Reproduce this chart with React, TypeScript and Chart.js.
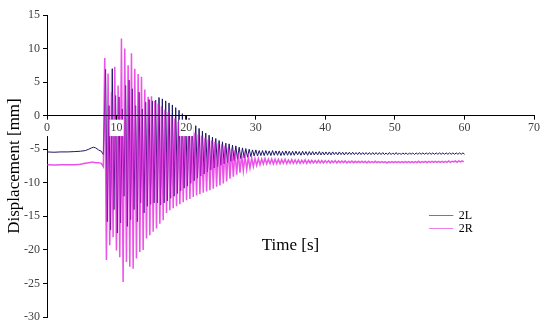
import React, { useEffect, useRef } from "react";
import { Chart, registerables } from "chart.js";

Chart.register(...registerables);

// ---- data ----
const SERIES_NAMES = ["2L", "2R"];
const X_TICK_STEP = 10;
const Y_TICK_STEP = 5;

// quiet phase before the shaking
const preTimes = [0, 1, 2, 3, 4, 4.8, 5.5, 6.0, 6.4, 6.7, 7.0, 7.4, 7.8, 8.1];
const preL = [-5.4, -5.45, -5.4, -5.4, -5.35, -5.3, -5.2, -5.0, -4.8, -4.7, -4.8, -5.1, -5.3, -5.8];
const preR = [-7.3, -7.35, -7.3, -7.3, -7.3, -7.25, -7.1, -7.0, -6.95, -6.95, -7.0, -7.0, -7.1, -7.6];

// oscillation: one peak and one trough per cycle
const cyclePeriod = 0.48; // s
const startL = 8.42;
const startR = 8.3;

const l2Peak = [
  6.9, 1.5, 7.0, 3.0, 2.8, 1.0, 4.5, 5.3, 4.0, 1.5,
  3.5, 1.0, 2.0, 2.4, 2.2, 2.3, 2.7, 2.5, 2.2, 1.9,
  1.6, 1.2, 0.8, 0.3, 0.0, -0.4, -0.9, -1.5, -1.9, -2.3,
  -2.6, -2.9, -3.2, -3.4, -3.7, -3.9, -4.1, -4.2, -4.4, -4.5,
  -4.7, -4.8, -4.9, -5.0, -5.1, -5.1, -5.2, -5.2, -5.2, -5.25,
  -5.2, -5.25, -5.25, -5.3, -5.25, -5.3, -5.3, -5.3, -5.35, -5.3,
  -5.35, -5.35, -5.35, -5.4, -5.35, -5.4, -5.4, -5.4, -5.4, -5.45,
  -5.4, -5.45, -5.45, -5.45, -5.45, -5.5, -5.45, -5.5, -5.5, -5.5,
  -5.5, -5.5, -5.5, -5.5, -5.55, -5.5, -5.55, -5.5, -5.55, -5.55,
  -5.55, -5.55, -5.55, -5.55, -5.55, -5.55, -5.55, -5.55, -5.55, -5.55,
  -5.55, -5.55, -5.55, -5.55, -5.55, -5.55, -5.55, -5.55,
];
const l2Trough = [
  -15.8, -17.0, -14.0, -17.5, -16.0, -12.0, -16.5, -15.5, -14.0, -15.8,
  -13.0, -14.5, -13.5, -13.2, -13.0, -13.0, -13.3, -13.0, -12.7, -12.3,
  -12.0, -11.6, -11.2, -10.8, -10.5, -10.1, -9.7, -9.3, -9.0, -8.7,
  -8.4, -8.1, -7.8, -7.6, -7.4, -7.2, -7.0, -6.8, -6.7, -6.5,
  -6.4, -6.3, -6.2, -6.1, -6.0, -6.0, -5.95, -5.95, -5.9, -5.95,
  -5.9, -5.9, -5.95, -5.9, -5.9, -5.9, -5.9, -5.85, -5.9, -5.85,
  -5.9, -5.85, -5.85, -5.85, -5.85, -5.85, -5.85, -5.85, -5.8, -5.85,
  -5.8, -5.85, -5.8, -5.8, -5.8, -5.8, -5.8, -5.8, -5.8, -5.8,
  -5.8, -5.8, -5.8, -5.8, -5.8, -5.8, -5.8, -5.8, -5.8, -5.75,
  -5.8, -5.75, -5.8, -5.75, -5.75, -5.75, -5.75, -5.75, -5.75, -5.75,
  -5.75, -5.75, -5.75, -5.75, -5.75, -5.75, -5.75, -5.75,
];
const r2Peak = [
  8.6, 6.3, 3.5, 7.3, 4.5, 11.5, 10.0, 7.5, 9.3, 7.0,
  6.2, 5.8, 3.9, 2.8, 2.9, 2.2, 1.8, 1.4, 0.9, 0.5,
  0.0, -0.4, -0.9, -1.3, -1.6, -1.9, -2.2, -2.5, -2.8, -3.0,
  -3.3, -3.5, -3.7, -3.9, -4.1, -4.3, -4.5, -4.7, -4.9, -5.2,
  -5.5, -5.8, -6.0, -6.2, -6.3, -6.4, -6.4, -6.45, -6.4, -6.5,
  -6.45, -6.5, -6.5, -6.55, -6.5, -6.6, -6.55, -6.6, -6.6, -6.65,
  -6.6, -6.65, -6.65, -6.7, -6.65, -6.7, -6.7, -6.7, -6.75, -6.7,
  -6.75, -6.75, -6.75, -6.8, -6.75, -6.8, -6.8, -6.8, -6.8, -6.8,
  -6.85, -6.8, -6.85, -6.85, -6.85, -6.85, -6.85, -6.85, -6.85, -6.85,
  -6.85, -6.85, -6.85, -6.85, -6.8, -6.85, -6.8, -6.8, -6.8, -6.8,
  -6.8, -6.8, -6.8, -6.75, -6.8, -6.75, -6.75, -6.75,
];
const r2Trough = [
  -21.5, -19.3, -18.1, -20.1, -21.1, -24.8, -21.8, -22.5, -22.8, -21.3,
  -20.3, -20.0, -18.3, -17.8, -17.3, -16.8, -16.1, -15.6, -14.5, -14.1,
  -13.8, -13.5, -13.2, -12.9, -12.6, -12.4, -12.1, -11.9, -11.7, -11.5,
  -11.3, -11.1, -10.9, -10.6, -10.4, -10.1, -9.8, -9.4, -9.1, -8.8,
  -8.5, -8.2, -8.0, -7.8, -7.6, -7.4, -7.3, -7.2, -7.2, -7.15,
  -7.2, -7.15, -7.15, -7.1, -7.15, -7.1, -7.1, -7.1, -7.1, -7.05,
  -7.1, -7.05, -7.05, -7.05, -7.05, -7.05, -7.0, -7.05, -7.0, -7.05,
  -7.0, -7.0, -7.05, -7.0, -7.0, -7.0, -7.0, -7.0, -7.05, -7.0,
  -7.0, -7.0, -7.0, -7.0, -7.05, -7.0, -7.0, -7.0, -7.0, -7.0,
  -7.0, -7.0, -7.0, -7.0, -7.0, -6.95, -7.0, -6.95, -6.95, -6.95,
  -6.95, -6.95, -6.95, -6.95, -6.9, -6.95, -6.9, -6.9,
];

const COLORS = ["#1c1766", "rgba(226, 26, 222, 0.75)"];
const LEGEND_COLORS = ["rgba(28, 23, 102, 0.6)", "rgba(226, 26, 222, 0.55)"];
const LINE_WIDTHS = [1.0, 1.5];
const FONT_FAMILY = '"Liberation Serif", "Times New Roman", serif';

function buildSeries(
  preT: number[],
  preV: number[],
  start: number,
  peaks: number[],
  troughs: number[]
) {
  const pts: { x: number; y: number }[] = preT.map((t, i) => ({ x: t, y: preV[i] }));
  peaks.forEach((p, k) => {
    const t = start + k * cyclePeriod;
    pts.push({ x: t, y: p });
    pts.push({ x: t + cyclePeriod / 2, y: troughs[k] });
  });
  return pts;
}

const overlayPlugin = {
  id: "overlayText",
  afterDraw(chart: any) {
    const { ctx, scales } = chart;
    const xs = scales.x;
    const ys = scales.y;
    ctx.save();
    ctx.fillStyle = "#000";
    ctx.font = `17px ${FONT_FAMILY}`;
    ctx.textAlign = "center";
    ctx.textBaseline = "middle";
    ctx.fillText("Time [s]", xs.getPixelForValue(35), ys.getPixelForValue(-19.4));
    const lx0 = xs.getPixelForValue(54.9);
    const lx1 = xs.getPixelForValue(58.4);
    const tx = xs.getPixelForValue(59.2);
    const rows = [ys.getPixelForValue(-14.8), ys.getPixelForValue(-16.75)];
    ctx.font = `12px ${FONT_FAMILY}`;
    ctx.textAlign = "left";
    SERIES_NAMES.forEach((name, i) => {
      const y = Math.round(rows[i]) + 0.5;
      ctx.strokeStyle = LEGEND_COLORS[i];
      ctx.lineWidth = 1;
      ctx.beginPath();
      ctx.moveTo(lx0, y);
      ctx.lineTo(lx1, y);
      ctx.stroke();
      ctx.fillStyle = "#000";
      ctx.fillText(name, tx, y);
    });
    ctx.restore();
  },
};

export default function App() {
  const canvasRef = useRef<HTMLCanvasElement | null>(null);

  useEffect(() => {
    const canvas = canvasRef.current;
    if (!canvas) return;
    const dataL = buildSeries(preTimes, preL, startL, l2Peak, l2Trough);
    const dataR = buildSeries(preTimes, preR, startR, r2Peak, r2Trough);

    const chart = new Chart(canvas, {
      type: "line",
      data: {
        datasets: [
          {
            label: SERIES_NAMES[0],
            data: dataL,
            borderColor: COLORS[0],
            backgroundColor: COLORS[0],
            borderWidth: LINE_WIDTHS[0],
            pointRadius: 0,
            tension: 0,
            order: 1,
          },
          {
            label: SERIES_NAMES[1],
            data: dataR,
            borderColor: COLORS[1],
            backgroundColor: COLORS[1],
            borderWidth: LINE_WIDTHS[1],
            pointRadius: 0,
            tension: 0,
            order: 0,
          },
        ],
      },
      options: {
        animation: false,
        responsive: false,
        devicePixelRatio: 1,
        parsing: false,
        normalized: true,
        layout: { padding: { left: 0, top: 15, right: 16, bottom: 15 } },
        plugins: {
          legend: { display: false },
          tooltip: { enabled: false },
        },
        scales: {
          x: {
            type: "linear",
            min: 0,
            max: 70,
            position: { y: 0 },
            border: { display: true, color: "#000", width: 1, z: 1 },
            grid: { display: true, drawOnChartArea: false, drawTicks: true, tickLength: 4, color: "#000", z: 1 },
            ticks: {
              stepSize: X_TICK_STEP,
              color: "#404040",
              font: { family: FONT_FAMILY, size: 12 },
              padding: 1,
              maxRotation: 0,
              z: 2,
              showLabelBackdrop: true,
              backdropColor: "#ffffff",
              backdropPadding: 1,
            },
          },
          y: {
            type: "linear",
            min: -30,
            max: 15,
            afterFit: (scale: any) => {
              scale.width = 47;
            },
            border: { display: true, color: "#000", width: 1 },
            grid: { display: true, drawOnChartArea: false, drawTicks: true, tickLength: 4, color: "#000" },
            ticks: {
              stepSize: Y_TICK_STEP,
              color: "#404040",
              font: { family: FONT_FAMILY, size: 12 },
              padding: 3,
            },
            title: {
              display: true,
              text: "Displacement [mm]",
              color: "#000",
              font: { family: FONT_FAMILY, size: 17 },
              padding: { top: 4, bottom: 2 },
            },
          },
        },
      },
      plugins: [overlayPlugin],
    } as any);

    return () => chart.destroy();
  }, []);

  return (
    <div style={{ position: "absolute", left: 0, top: 0, width: 550, height: 332, background: "#fff" }}>
      <canvas ref={canvasRef} width={550} height={332} style={{ width: 550, height: 332, display: "block" }} />
    </div>
  );
}
